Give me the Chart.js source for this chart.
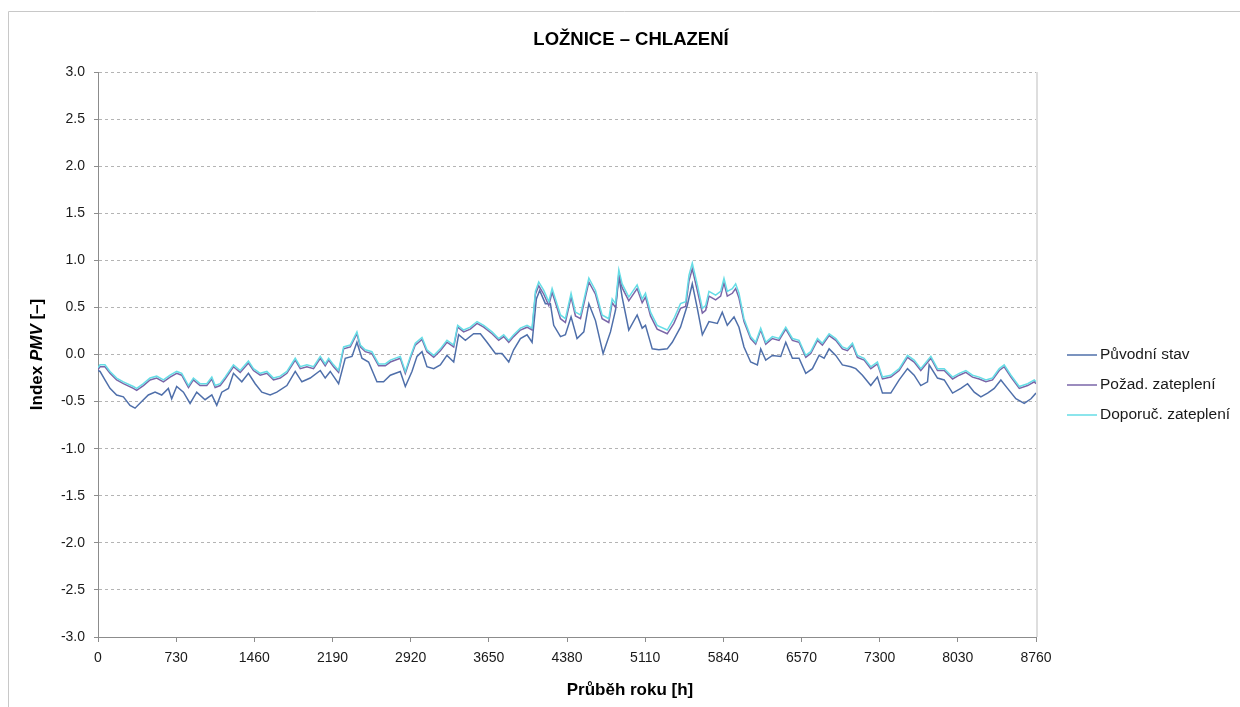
<!DOCTYPE html>
<html lang="cs">
<head>
<meta charset="utf-8">
<title>Ložnice – chlazení</title>
<script src="https://cdn.jsdelivr.net/npm/chart.js@4.4.1/dist/chart.umd.min.js"></script>
<style>
  html, body { margin: 0; padding: 0; background: #ffffff; }
  #pmvChart { display: block; }
</style>
</head>
<body>
<canvas id="pmvChart" width="1240" height="707"></canvas>
<script>
// hours for the two insulated variants
const hoursUpper = [
  0, 19, 65, 112, 174, 237, 330, 361, 424, 486,
  548, 611, 673, 735, 782, 845, 891, 953, 1016, 1063,
  1094, 1141, 1187, 1265, 1328, 1405, 1452, 1515, 1577, 1639,
  1702, 1764, 1842, 1889, 1951, 2013, 2076, 2122, 2154, 2200,
  2247, 2294, 2356, 2418, 2450, 2496, 2558, 2621, 2683, 2730,
  2823, 2870, 2917, 2963, 3026, 3072, 3135, 3197, 3259, 3322,
  3359, 3415, 3477, 3540, 3602, 3680, 3742, 3789, 3836, 3882,
  3945, 4007, 4054, 4085, 4116, 4163, 4210, 4241, 4272, 4319,
  4365, 4418, 4459, 4506, 4584, 4646, 4708, 4770, 4802, 4833,
  4864, 4895, 4957, 5035, 5082, 5113, 5160, 5222, 5316, 5378,
  5440, 5488, 5519, 5550, 5597, 5644, 5675, 5706, 5768, 5815,
  5846, 5877, 5924, 5955, 5986, 6033, 6095, 6142, 6189, 6236,
  6298, 6360, 6423, 6485, 6547, 6610, 6656, 6719, 6765, 6828,
  6890, 6952, 6999, 7046, 7092, 7155, 7217, 7279, 7326, 7404,
  7482, 7560, 7622, 7684, 7778, 7840, 7903, 7981, 8043, 8105,
  8167, 8230, 8292, 8354, 8417, 8463, 8526, 8604, 8682, 8744,
  8760,
];

const pmvDoporuc = [
  -0.14, -0.11, -0.11, -0.18, -0.25, -0.29, -0.34, -0.36, -0.31, -0.25,
  -0.23, -0.27, -0.22, -0.18, -0.2, -0.33, -0.25, -0.31, -0.31, -0.24,
  -0.33, -0.31, -0.24, -0.11, -0.17, -0.07, -0.15, -0.2, -0.18, -0.25,
  -0.23, -0.18, -0.04, -0.13, -0.11, -0.13, -0.02, -0.1, -0.04, -0.11,
  -0.17, 0.08, 0.1, 0.24, 0.1, 0.05, 0.03, -0.1, -0.1, -0.06,
  -0.02, -0.18, -0.02, 0.12, 0.18, 0.05, -0.01, 0.06, 0.15, 0.1,
  0.31, 0.26, 0.29, 0.35, 0.31, 0.24, 0.17, 0.21, 0.15, 0.21,
  0.28, 0.31, 0.28, 0.67, 0.77, 0.68, 0.56, 0.7, 0.59, 0.42,
  0.38, 0.65, 0.45, 0.42, 0.81, 0.68, 0.42, 0.38, 0.59, 0.54,
  0.9, 0.75, 0.61, 0.74, 0.59, 0.65, 0.45, 0.31, 0.26, 0.38,
  0.54, 0.56, 0.84, 0.97, 0.74, 0.49, 0.52, 0.67, 0.63, 0.67,
  0.81, 0.67, 0.7, 0.75, 0.65, 0.38, 0.19, 0.13, 0.28, 0.13,
  0.19, 0.17, 0.29, 0.17, 0.15, -0.01, 0.03, 0.17, 0.12, 0.22,
  0.17, 0.08, 0.06, 0.12, -0.01, -0.04, -0.13, -0.08, -0.24, -0.22,
  -0.15, -0.01, -0.06, -0.15, -0.02, -0.15, -0.15, -0.24, -0.2, -0.17,
  -0.22, -0.24, -0.27, -0.25, -0.15, -0.11, -0.22, -0.34, -0.31, -0.27,
  -0.29,
];

const pmvPozad = [
  -0.16, -0.13, -0.13, -0.2, -0.27, -0.31, -0.36, -0.38, -0.33, -0.27,
  -0.25, -0.29, -0.24, -0.2, -0.22, -0.35, -0.27, -0.33, -0.33, -0.26,
  -0.35, -0.33, -0.26, -0.13, -0.19, -0.09, -0.17, -0.22, -0.2, -0.27,
  -0.25, -0.2, -0.06, -0.15, -0.13, -0.15, -0.04, -0.12, -0.06, -0.13,
  -0.19, 0.06, 0.08, 0.22, 0.08, 0.03, 0.01, -0.12, -0.12, -0.08,
  -0.04, -0.2, -0.04, 0.1, 0.16, 0.03, -0.03, 0.04, 0.13, 0.08,
  0.29, 0.24, 0.27, 0.33, 0.29, 0.22, 0.15, 0.19, 0.13, 0.19,
  0.26, 0.29, 0.26, 0.64, 0.73, 0.64, 0.52, 0.66, 0.55, 0.38,
  0.34, 0.61, 0.41, 0.38, 0.77, 0.64, 0.38, 0.34, 0.55, 0.5,
  0.86, 0.71, 0.57, 0.7, 0.55, 0.61, 0.41, 0.27, 0.22, 0.33,
  0.49, 0.51, 0.78, 0.91, 0.68, 0.44, 0.47, 0.62, 0.58, 0.62,
  0.76, 0.62, 0.65, 0.7, 0.6, 0.35, 0.17, 0.11, 0.26, 0.11,
  0.17, 0.15, 0.27, 0.15, 0.13, -0.03, 0.01, 0.15, 0.1, 0.2,
  0.15, 0.06, 0.04, 0.1, -0.03, -0.06, -0.15, -0.1, -0.26, -0.24,
  -0.17, -0.03, -0.08, -0.17, -0.04, -0.17, -0.17, -0.26, -0.22, -0.19,
  -0.24, -0.26, -0.29, -0.27, -0.17, -0.13, -0.24, -0.36, -0.33, -0.29,
  -0.31,
];

// original state has its own sample hours
const hoursPuvodni = [
  0, 19, 65, 112, 174, 237, 299, 346, 408, 470,
  533, 595, 657, 688, 735, 798, 860, 922, 1000, 1063,
  1109, 1156, 1218, 1265, 1343, 1405, 1468, 1530, 1608, 1670,
  1764, 1842, 1904, 1982, 2076, 2122, 2169, 2247, 2309, 2372,
  2418, 2465, 2527, 2605, 2667, 2730, 2823, 2870, 2932, 2979,
  3026, 3072, 3135, 3197, 3259, 3322, 3368, 3431, 3508, 3571,
  3633, 3711, 3773, 3836, 3882, 3945, 4007, 4054, 4094, 4125,
  4178, 4225, 4256, 4319, 4365, 4418, 4474, 4537, 4584, 4646,
  4717, 4786, 4833, 4864, 4895, 4957, 5035, 5082, 5113, 5176,
  5238, 5316, 5363, 5440, 5503, 5550, 5597, 5644, 5706, 5784,
  5830, 5877, 5940, 5986, 6033, 6095, 6158, 6189, 6236, 6298,
  6376, 6423, 6485, 6547, 6610, 6672, 6734, 6781, 6828, 6890,
  6952, 7030, 7077, 7139, 7217, 7279, 7326, 7404, 7482, 7560,
  7622, 7684, 7747, 7762, 7840, 7903, 7981, 8058, 8121, 8183,
  8245, 8308, 8370, 8432, 8494, 8572, 8650, 8713, 8760,
];

const pmvPuvodni = [
  -0.17, -0.18, -0.27, -0.36, -0.43, -0.45, -0.54, -0.57, -0.5, -0.43,
  -0.4, -0.43, -0.36, -0.47, -0.34, -0.4, -0.52, -0.4, -0.48, -0.43,
  -0.54, -0.4, -0.36, -0.2, -0.29, -0.2, -0.31, -0.4, -0.43, -0.4,
  -0.33, -0.18, -0.29, -0.25, -0.17, -0.25, -0.18, -0.31, -0.04, -0.02,
  0.13, -0.04, -0.08, -0.29, -0.29, -0.22, -0.18, -0.34, -0.18, -0.02,
  0.03, -0.13, -0.15, -0.11, -0.01, -0.08, 0.21, 0.15, 0.22, 0.22,
  0.13, 0.01, 0.01, -0.08, 0.05, 0.17, 0.21, 0.13, 0.59, 0.68,
  0.54, 0.54, 0.31, 0.19, 0.21, 0.4, 0.17, 0.24, 0.54, 0.36,
  0.01, 0.24, 0.47, 0.83, 0.61, 0.26, 0.42, 0.28, 0.31, 0.06,
  0.05, 0.06, 0.13, 0.29, 0.52, 0.75, 0.49, 0.21, 0.35, 0.33,
  0.45, 0.31, 0.4, 0.29, 0.08, -0.08, -0.11, 0.06, -0.06, -0.01,
  -0.02, 0.13, -0.04, -0.04, -0.2, -0.15, -0.01, -0.04, 0.06, -0.01,
  -0.11, -0.13, -0.15, -0.22, -0.33, -0.24, -0.41, -0.41, -0.27, -0.15,
  -0.22, -0.33, -0.29, -0.11, -0.25, -0.27, -0.41, -0.36, -0.31, -0.4,
  -0.45, -0.41, -0.36, -0.27, -0.36, -0.47, -0.52, -0.47, -0.41,
];

const seriesNames = ["Původní stav", "Požad. zateplení", "Doporuč. zateplení"];
const xTicks = [0, 730, 1460, 2190, 2920, 3650, 4380, 5110, 5840, 6570, 7300, 8030, 8760];
const yTicks = [-3, -2.5, -2, -1.5, -1, -0.5, 0, 0.5, 1, 1.5, 2, 2.5, 3];

const chartTitle = "LOŽNICE – CHLAZENÍ";
const xTitle = "Průběh roku [h]";

Chart.defaults.font.family = "'Liberation Sans', Arial, sans-serif";
Chart.defaults.color = "#1a1a1a";

function toPoints(hours, values) {
  return hours.map((h, i) => ({ x: h, y: values[i] }));
}

// frame of the chart object + faint right edge of the plot
const framePlugin = {
  id: "frame",
  beforeDraw(chart) {
    const c = chart.ctx;
    c.save();
    c.strokeStyle = "#c8c8c8";
    c.lineWidth = 1;
    c.beginPath();
    c.moveTo(8.5, 707);
    c.lineTo(8.5, 11.5);
    c.lineTo(1240, 11.5);
    c.stroke();
    c.restore();
  },
  afterDraw(chart) {
    const a = chart.chartArea;
    const c = chart.ctx;
    c.save();
    c.strokeStyle = "#dedede";
    c.lineWidth = 2;
    c.beginPath();
    c.moveTo(a.right + 1, a.top);
    c.lineTo(a.right + 1, a.bottom);
    c.stroke();
    c.restore();
  },
};

// titles: chart title and x title centred on the whole chart object,
// y title with italic PMV
const titlesPlugin = {
  id: "titles",
  afterDraw(chart) {
    const a = chart.chartArea;
    const c = chart.ctx;
    const fam = Chart.defaults.font.family;

    c.save();
    c.fillStyle = "#000000";
    c.textAlign = "center";
    c.textBaseline = "middle";
    c.font = "bold 18.5px " + fam;
    c.fillText(chartTitle, 631, 40);
    c.font = "bold 17px " + fam;
    c.fillText(xTitle, 630, 690);
    c.restore();

    const parts = [
      { t: "Index ", f: "bold 17px " + fam },
      { t: "PMV", f: "italic bold 17px " + fam },
      { t: " [–]", f: "bold 17px " + fam },
    ];
    let total = 0;
    parts.forEach((p) => {
      c.font = p.f;
      p.w = c.measureText(p.t).width;
      total += p.w;
    });
    c.save();
    c.translate(37, (a.top + a.bottom) / 2);
    c.rotate(-Math.PI / 2);
    c.fillStyle = "#000000";
    c.textBaseline = "middle";
    c.textAlign = "left";
    let x = -total / 2;
    parts.forEach((p) => {
      c.font = p.f;
      c.fillText(p.t, x, 0);
      x += p.w;
    });
    c.restore();
  },
};

// legend on the right, drawn like the Excel one
const sideLegendPlugin = {
  id: "sideLegend",
  afterDraw(chart) {
    const c = chart.ctx;
    c.save();
    c.font = "15.5px " + Chart.defaults.font.family;
    c.textBaseline = "middle";
    c.textAlign = "left";
    chart.data.datasets.forEach((ds, i) => {
      const y = 355 + i * 30;
      c.strokeStyle = ds.borderColor;
      c.lineWidth = 1.5;
      c.beginPath();
      c.moveTo(1067, y);
      c.lineTo(1097, y);
      c.stroke();
      c.fillStyle = "#1a1a1a";
      c.fillText(ds.label, 1100, y);
    });
    c.restore();
  },
};

const ctx = document.getElementById("pmvChart").getContext("2d");

const data = {
  datasets: [
    {
      label: seriesNames[0],
      data: toPoints(hoursPuvodni, pmvPuvodni),
      borderColor: "#4f6faa",
      order: 2,
    },
    {
      label: seriesNames[1],
      data: toPoints(hoursUpper, pmvPozad),
      borderColor: "#7a66a8",
      order: 1,
    },
    {
      label: seriesNames[2],
      data: toPoints(hoursUpper, pmvDoporuc),
      borderColor: "#66dde6",
      order: 0,
    },
  ],
};

const config = {
  type: "line",
  data: data,
  options: {
    responsive: false,
    animation: false,
    devicePixelRatio: 1,
    layout: {
      padding: { top: 72, right: 204, bottom: 0, left: 0 },
    },
    elements: {
      line: { borderWidth: 1.5, tension: 0, fill: false },
      point: { radius: 0 },
    },
    plugins: {
      legend: { display: false },
      tooltip: { enabled: false },
      title: { display: false },
    },
    scales: {
      x: {
        type: "linear",
        min: 0,
        max: 8760,
        afterFit: (scale) => {
          scale.height = 70;
        },
        afterBuildTicks: (scale) => {
          scale.ticks = xTicks.map((v) => ({ value: v }));
        },
        grid: {
          drawOnChartArea: false,
          drawTicks: true,
          tickLength: 5,
          tickColor: "#8c8c8c",
        },
        border: { display: true, color: "#8c8c8c", width: 1 },
        ticks: {
          padding: 8,
          maxRotation: 0,
          autoSkip: false,
          font: { size: 14 },
          callback: (v) => String(v),
        },
      },
      y: {
        min: -3,
        max: 3,
        afterFit: (scale) => {
          scale.width = 98;
        },
        afterBuildTicks: (scale) => {
          scale.ticks = yTicks.map((v) => ({ value: v }));
        },
        grid: {
          color: "#b4b4b4",
          tickLength: 4,
          tickColor: "#8c8c8c",
          tickBorderDash: [],
        },
        border: { display: true, color: "#8c8c8c", width: 1, dash: [3, 3] },
        ticks: {
          padding: 9,
          font: { size: 14 },
          callback: (v) => Number(v).toFixed(1),
        },
      },
    },
  },
  plugins: [framePlugin, titlesPlugin, sideLegendPlugin],
};

new Chart(ctx, config);
</script>
</body>
</html>
